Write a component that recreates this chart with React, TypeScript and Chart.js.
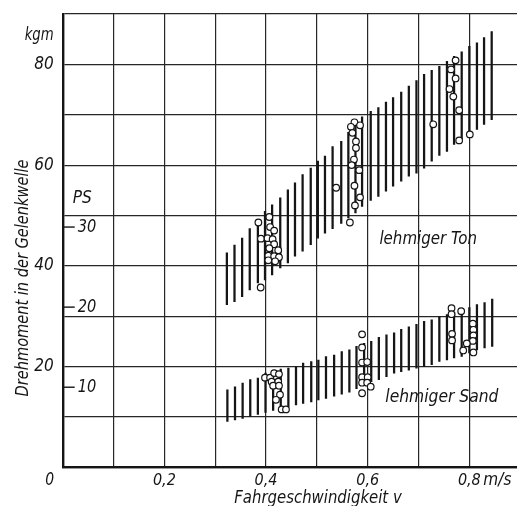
import React, { useEffect, useRef } from "react";
import { Chart, registerables } from "chart.js";

Chart.register(...registerables);

const FONT = "'Liberation Sans Narrow', 'DejaVu Sans Condensed', 'DejaVu Sans', sans-serif";
const INK = "#151515";

// Hatched band "lehmiger Ton": each hatch stroke spans [low, high] kgm at speed x (m/s)
const tonX = [0.323, 0.338, 0.353, 0.368, 0.384, 0.398, 0.412, 0.428, 0.443, 0.457, 0.472, 0.488, 0.502, 0.516, 0.531, 0.548, 0.562, 0.576, 0.589, 0.606, 0.621, 0.636, 0.650, 0.666, 0.681, 0.696, 0.711, 0.726, 0.741, 0.756, 0.770, 0.785, 0.800, 0.815, 0.829, 0.844];
const tonLow = [32.3, 32.9, 33.9, 35.2, 36.6, 37.2, 38.2, 39.6, 40.6, 41.9, 42.9, 44.2, 45.5, 46.5, 47.4, 48.4, 49.5, 50.5, 51.8, 53.0, 53.8, 54.8, 55.8, 56.8, 57.8, 58.4, 59.4, 60.8, 61.9, 62.7, 64.1, 65.1, 66.1, 67.1, 68.1, 69.0];
const tonHigh = [42.6, 44.1, 45.5, 47.4, 48.8, 50.8, 52.1, 53.5, 55.1, 56.5, 58.1, 59.4, 60.8, 61.8, 63.7, 64.7, 66.5, 68.5, 69.6, 70.7, 71.4, 72.5, 73.4, 74.5, 75.7, 76.8, 78.0, 78.8, 79.6, 80.6, 81.6, 82.5, 83.6, 84.3, 85.3, 86.5];

// Hatched band "lehmiger Sand"
const sandX = [0.324, 0.339, 0.354, 0.369, 0.384, 0.399, 0.414, 0.429, 0.444, 0.459, 0.473, 0.489, 0.503, 0.518, 0.534, 0.549, 0.564, 0.578, 0.593, 0.607, 0.622, 0.637, 0.652, 0.666, 0.681, 0.696, 0.711, 0.726, 0.741, 0.756, 0.770, 0.785, 0.800, 0.815, 0.830, 0.845];
const sandLow = [9.1, 9.4, 9.7, 10.1, 10.5, 10.9, 11.3, 11.7, 12.0, 12.4, 12.7, 13.0, 13.4, 13.7, 14.1, 14.5, 14.9, 15.6, 16.3, 17.0, 17.4, 18.0, 18.7, 19.0, 19.3, 19.7, 20.0, 20.4, 21.0, 21.3, 21.7, 22.0, 22.7, 23.3, 23.7, 24.0];
const sandHigh = [15.4, 16.0, 16.7, 17.4, 17.7, 18.7, 19.2, 19.5, 19.7, 20.0, 20.7, 21.0, 21.3, 22.0, 22.3, 23.0, 23.3, 24.0, 24.6, 25.0, 25.8, 26.3, 26.7, 27.4, 27.9, 28.4, 29.0, 29.3, 29.9, 30.3, 30.7, 31.3, 31.7, 32.3, 32.7, 33.4];

// Measured points (speed m/s, torque kgm)
const tonPtX = [0.385, 0.4065, 0.408, 0.416, 0.390, 0.403, 0.413, 0.416, 0.4065, 0.424, 0.4045, 0.416, 0.4255, 0.4045, 0.418, 0.3895, 0.538, 0.574, 0.567, 0.585, 0.570, 0.577, 0.577, 0.573, 0.5685, 0.5835, 0.574, 0.585, 0.575, 0.565, 0.773, 0.764, 0.773, 0.761, 0.7685, 0.780, 0.729, 0.780, 0.801];
const tonPtY = [48.6, 49.7, 47.7, 47.0, 45.4, 45.5, 45.3, 44.3, 43.5, 43.1, 42.0, 41.9, 41.7, 41.1, 40.9, 35.7, 55.5, 68.5, 67.6, 67.9, 66.4, 64.7, 63.4, 61.1, 60.0, 59.0, 55.9, 53.6, 52.0, 48.6, 80.8, 79.0, 77.2, 75.1, 73.6, 70.9, 68.1, 64.9, 66.1];
const sandPtX = [0.398, 0.408, 0.416, 0.4255, 0.411, 0.424, 0.414, 0.4255, 0.4275, 0.4196, 0.4308, 0.4393, 0.589, 0.589, 0.589, 0.599, 0.589, 0.600, 0.589, 0.599, 0.606, 0.589, 0.765, 0.765, 0.784, 0.807, 0.808, 0.766, 0.808, 0.766, 0.807, 0.795, 0.788, 0.808];
const sandPtY = [17.8, 17.8, 18.7, 18.5, 17.0, 17.0, 16.2, 16.2, 14.4, 13.4, 11.5, 11.5, 26.4, 23.8, 20.8, 20.9, 17.9, 17.9, 16.8, 16.8, 16.0, 14.7, 31.6, 30.4, 31.0, 28.5, 27.3, 26.5, 26.2, 25.2, 25.1, 24.6, 23.2, 22.8];

// Axis labelling
const yLabelTicks = [20, 40, 60, 80];
const xLabelTicks = [2, 4, 6, 8]; // tenths of m/s
const psTicks = [10, 20, 30];
const PS_TO_KGM = 1.59;

const italic = (size: number) => `italic ${size}px ${FONT}`;

// Draws a string squeezed horizontally, as in narrow drafting lettering
function narrowText(ctx: CanvasRenderingContext2D, text: string, px: number, py: number, squeeze = 0.86) {
  ctx.save();
  ctx.translate(px, py);
  ctx.scale(squeeze, 1);
  ctx.fillText(text, 0, 0);
  ctx.restore();
}

const annotate = {
  id: "annotate",
  afterDraw(chart: any) {
    const { ctx, chartArea, scales } = chart;
    const x = scales.x;
    const y = scales.y;
    const left = chartArea.left;
    ctx.save();
    ctx.fillStyle = INK;
    ctx.strokeStyle = INK;

    // unit above the torque scale
    ctx.font = italic(18);
    ctx.textAlign = "right";
    ctx.textBaseline = "middle";
    narrowText(ctx, "kgm", left - 9, y.getPixelForValue(85.8), 0.82);

    // origin label
    ctx.textAlign = "center";
    narrowText(ctx, "0", left - 13, chartArea.bottom + 13);

    // speed unit after 0,8
    ctx.font = italic(17);
    ctx.textAlign = "left";
    narrowText(ctx, "m/s", x.getPixelForValue(0.8) + 14, chartArea.bottom + 13, 1);

    // auxiliary power scale (PS) inside the plot
    ctx.font = italic(18);
    narrowText(ctx, "PS", left + 10, y.getPixelForValue(53.4), 0.95);
    ctx.lineWidth = 1.4;
    for (const ps of psTicks) {
      const py = y.getPixelForValue(ps * PS_TO_KGM);
      ctx.beginPath();
      ctx.moveTo(left + 1, py);
      ctx.lineTo(left + 12, py);
      ctx.stroke();
      narrowText(ctx, String(ps), left + 15, py, 0.9);
    }

    // soil type labels
    ctx.textAlign = "center";
    narrowText(ctx, "lehmiger Ton", x.getPixelForValue(0.719), y.getPixelForValue(45.2), 0.93);
    narrowText(ctx, "lehmiger Sand", x.getPixelForValue(0.746), y.getPixelForValue(13.8), 0.96);

    // axis titles
    ctx.font = italic(18);
    ctx.textBaseline = "alphabetic";
    narrowText(ctx, "Fahrgeschwindigkeit v", 318, 503, 0.92);
    ctx.translate(28, 278);
    ctx.rotate(-Math.PI / 2);
    narrowText(ctx, "Drehmoment in der Gelenkwelle", 0, 0, 0.9);
    ctx.restore();
  },
};

export default function App() {
  const ref = useRef<HTMLCanvasElement>(null);

  useEffect(() => {
    document.body.style.margin = "0";
    const bar = (xs: number[], lo: number[], hi: number[]) =>
      xs.map((v, i) => ({ x: v, y: [lo[i], hi[i]] }));
    const pts = (xs: number[], ys: number[]) => xs.map((v, i) => ({ x: v, y: ys[i] }));

    const hatch = {
      type: "bar" as const,
      backgroundColor: INK,
      borderWidth: 0,
      barThickness: 1.6,
      grouped: false,
      order: 2,
    };
    const marker = {
      type: "scatter" as const,
      pointRadius: 3.3,
      pointBackgroundColor: "#ffffff",
      pointBorderColor: INK,
      pointBorderWidth: 1.2,
      order: 1,
    };

    const chart = new Chart(ref.current as HTMLCanvasElement, {
      type: "scatter",
      data: {
        datasets: [
          { ...hatch, label: "Ton", data: bar(tonX, tonLow, tonHigh) } as any,
          { ...hatch, label: "Sand", data: bar(sandX, sandLow, sandHigh) } as any,
          { ...marker, label: "Ton Messwerte", data: pts(tonPtX, tonPtY) },
          { ...marker, label: "Sand Messwerte", data: pts(sandPtX, sandPtY) },
        ],
      },
      options: {
        animation: false,
        responsive: false,
        devicePixelRatio: 1,
        layout: { autoPadding: false, padding: { top: 14, left: 0, right: 0, bottom: 0 } },
        plugins: { legend: { display: false }, tooltip: { enabled: false } },
        events: [],
        scales: {
          x: {
            type: "linear",
            min: 0,
            max: 0.8938,
            offset: false,
            grid: { color: "#262626", lineWidth: 1.2, drawTicks: false, offset: false },
            border: { color: INK, width: 2.2 },
            ticks: {
              stepSize: 0.1,
              includeBounds: false,
              autoSkip: false,
              maxRotation: 0,
              padding: 4,
              color: INK,
              font: { family: FONT, size: 16, style: "italic" },
              callback: (v: any) => {
                const t = Math.round(Number(v) * 10);
                return xLabelTicks.includes(t) ? "0," + t : "";
              },
            },
            afterFit: (s: any) => {
              s.height = 38.7;
              s.paddingLeft = 0;
              s.paddingRight = 0;
            },
          },
          y: {
            type: "linear",
            min: 0,
            max: 90,
            grid: { color: "#262626", lineWidth: 1.2, drawTicks: false },
            border: { color: INK, width: 2.4 },
            ticks: {
              stepSize: 10,
              autoSkip: false,
              padding: 9,
              color: INK,
              font: { family: FONT, size: 17, style: "italic" },
              callback: (v: any) => (yLabelTicks.includes(Math.round(Number(v))) ? String(Math.round(Number(v))) : ""),
            },
            afterFit: (s: any) => {
              s.width = 62.7;
              s.paddingTop = 0;
              s.paddingBottom = 0;
            },
          },
        },
      },
      plugins: [annotate],
    });
    return () => chart.destroy();
  }, []);

  return (
    <div style={{ position: "absolute", left: 0, top: 0, width: 517, height: 506, background: "#fff" }}>
      <canvas ref={ref} width={517} height={506} style={{ display: "block" }} />
    </div>
  );
}
